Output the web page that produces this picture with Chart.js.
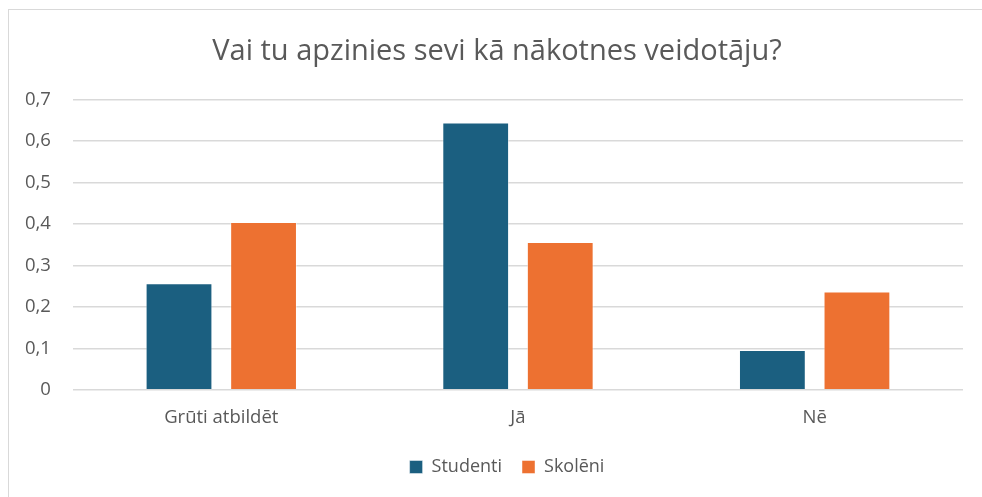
<!DOCTYPE html>
<html>
<head>
<meta charset="utf-8">
<script src="https://cdn.jsdelivr.net/npm/chart.js@4/dist/chart.umd.min.js"></script>
<style>
  html, body { margin: 0; padding: 0; background: #fff; }
  #wrap { position: relative; width: 982px; height: 497px; }
  #frame { position: absolute; left: 8px; top: 9px; width: 990px; height: 500px; border: 1px solid #d9d9d9; }
  canvas { position: absolute; left: 0; top: 0; }
</style>
</head>
<body>
<div id="wrap">
  <div id="frame"></div>
  <canvas id="chart" width="982" height="497"></canvas>
</div>
<script>
// categories and series
var categories = ["Grūti atbildēt", "Jā", "Nē"];
var studenti = [0.257, 0.645, 0.096];
var skoleni = [0.405, 0.357, 0.237];

var ctx = document.getElementById("chart");

var data = {
  labels: categories,
  datasets: [
    {
      label: "Studenti",
      data: studenti,
      backgroundColor: "#1b5f80",
      borderColor: "rgba(255,255,255,0.45)",
      borderWidth: 1,
      categoryPercentage: 0.57,
      barPercentage: 0.79
    },
    {
      label: "Skolēni",
      data: skoleni,
      backgroundColor: "#ed7131",
      borderColor: "rgba(255,255,255,0.45)",
      borderWidth: 1,
      categoryPercentage: 0.57,
      barPercentage: 0.79
    }
  ]
};

// title and legend sit a bit right of centre in the original
var shiftBlocks = {
  id: "shiftBlocks",
  afterLayout: function (chart) {
    chart.titleBlock.left += 14;
    chart.titleBlock.right += 14;
    chart.legend.left += 24;
    chart.legend.right += 24;
  }
};

var options = {
  responsive: false,
  animation: false,
  layout: { padding: { left: 3, right: 19, top: 21, bottom: 11 } },
  plugins: {
    title: {
      display: true,
      text: "Vai tu apzinies sevi kā nākotnes veidotāju?",
      color: "#595959",
      font: { family: "Open Sans", size: 29, weight: "normal" },
      padding: { top: 13, bottom: 31 }
    },
    legend: {
      position: "bottom",
      labels: {
        color: "#595959",
        font: { family: "Open Sans", size: 18 },
        boxWidth: 13,
        boxHeight: 13,
        padding: 20
      }
    },
    tooltip: { enabled: false }
  },
  scales: {
    x: {
      grid: { display: false },
      border: { display: false },
      ticks: {
        color: "#595959",
        font: { family: "Open Sans", size: 18.5 },
        padding: 9
      }
    },
    y: {
      min: 0,
      max: 0.7,
      grid: { color: "#d9d9d9", lineWidth: 1.5, drawTicks: false },
      border: { display: false },
      ticks: {
        stepSize: 0.1,
        color: "#595959",
        font: { family: "Open Sans", size: 18.5 },
        padding: 22,
        callback: function (v) {
          return v === 0 ? "0" : v.toFixed(1).replace(".", ",");
        }
      }
    }
  }
};

new Chart(ctx, { type: "bar", data: data, options: options, plugins: [shiftBlocks] });
</script>
</body>
</html>
